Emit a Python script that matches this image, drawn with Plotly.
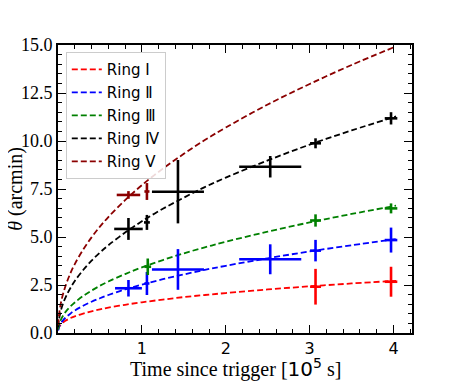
import plotly.graph_objects as go

# ---- data ----
ring_names = ["Ring Ⅰ", "Ring Ⅱ", "Ring Ⅲ", "Ring Ⅳ", "Ring Ⅴ"]
ring_colors = ["#ff0000", "#0000ff", "#008000", "#000000", "#8b0000"]

# fitted model curves
t_curve = [0.002, 0.01, 0.03, 0.06, 0.1, 0.15, 0.2, 0.3, 0.4, 0.5, 0.6, 0.8,
           1.0, 1.25, 1.5, 1.75, 2.0, 2.5, 3.0, 3.5, 4.03]
curve_1 = [0.15, 0.28, 0.42, 0.55, 0.67, 0.78, 0.87, 1.01, 1.13, 1.23, 1.32, 1.47,
           1.60, 1.74, 1.87, 1.98, 2.08, 2.27, 2.43, 2.58, 2.72]
curve_2 = [0.13, 0.28, 0.48, 0.66, 0.84, 1.02, 1.17, 1.42, 1.63, 1.81, 1.98, 2.27,
           2.52, 2.80, 3.05, 3.29, 3.50, 3.89, 4.25, 4.57, 4.89]
curve_3 = [0.18, 0.38, 0.65, 0.90, 1.15, 1.39, 1.59, 1.93, 2.21, 2.46, 2.68, 3.07,
           3.42, 3.80, 4.15, 4.46, 4.75, 5.28, 5.76, 6.20, 6.63]
curve_4 = [0.30, 0.65, 1.10, 1.53, 1.95, 2.36, 2.71, 3.28, 3.77, 4.19, 4.57, 5.23,
           5.82, 6.47, 7.05, 7.60, 8.09, 8.99, 9.81, 10.55, 11.28]
curve_5 = [0.40, 0.86, 1.46, 2.03, 2.58, 3.13, 3.59, 4.34, 4.98, 5.54, 6.04, 6.92,
           7.70, 8.56, 9.33, 10.05, 10.70, 11.90, 12.97, 13.96, 14.93]
curves = [curve_1, curve_2, curve_3, curve_4, curve_5]

# measured points
t_1 = [3.07, 3.97]
terr_1 = [0.065, 0.075]
y_1 = [2.41, 2.67]
yerr_1 = [0.93, 0.78]

t_2 = [0.84, 1.06, 1.43, 2.53, 3.07, 3.97]
terr_2 = [0.16, 0.03, 0.31, 0.37, 0.065, 0.075]
y_2 = [2.33, 2.58, 3.31, 3.84, 4.29, 4.84]
yerr_2 = [0.43, 0.60, 1.06, 0.78, 0.56, 0.65]

t_3 = [1.07, 3.07, 3.97]
terr_3 = [0.04, 0.065, 0.075]
y_3 = [3.45, 5.86, 6.49]
yerr_3 = [0.43, 0.32, 0.26]

t_4 = [0.84, 1.06, 1.43, 2.53, 3.07, 3.97]
terr_4 = [0.17, 0.035, 0.31, 0.37, 0.065, 0.075]
y_4 = [5.42, 5.76, 7.36, 8.66, 9.88, 11.18]
yerr_4 = [0.57, 0.39, 1.65, 0.56, 0.26, 0.32]

t_5 = [0.84, 1.06]
terr_5 = [0.14, 0.03]
y_5 = [7.19, 7.37]
yerr_5 = [0.20, 0.44]

points = [(t_1, terr_1, y_1, yerr_1), (t_2, terr_2, y_2, yerr_2),
          (t_3, terr_3, y_3, yerr_3), (t_4, terr_4, y_4, yerr_4),
          (t_5, terr_5, y_5, yerr_5)]

x_ticks = [1, 2, 3, 4]
y_ticks = [0, 2.5, 5, 7.5, 10, 12.5, 15]

x_title = "Time since trigger [<span style=\"font-family:DejaVu Sans\">10<sup>5</sup></span> s]"
y_title = "<i>θ</i> (arcmin)"

# ---- figure ----
fig = go.Figure()
for i, (name, col) in enumerate(zip(ring_names, ring_colors)):
    fig.add_trace(go.Scatter(
        x=t_curve, y=curves[i], mode="lines", name=name,
        line=dict(color=col, width=1.8, dash="6px,3px", shape="spline"),
        legendgroup=f"g{i}", showlegend=True))
for i, col in enumerate(ring_colors):
    tx, tex, yy, yye = points[i]
    fig.add_trace(go.Scatter(
        x=tx, y=yy, mode="markers", showlegend=False,
        marker=dict(color=col, size=2),
        error_x=dict(type="data", array=tex, visible=True, color=col, thickness=2.6, width=0),
        error_y=dict(type="data", array=yye, visible=True, color=col, thickness=2.6, width=0)))

serif = "Liberation Serif, Times New Roman, serif"
sans = "DejaVu Sans, sans-serif"

# the page body has an 8px margin, so the figure is sized to fit the window
fig.update_layout(
    width=449, height=373,
    margin=dict(l=50, r=45, t=37, b=48),
    paper_bgcolor="white", plot_bgcolor="white",
    showlegend=True,
    legend=dict(
        x=0.022, y=0.975, xanchor="left", yanchor="top",
        bgcolor="rgba(255,255,255,0.85)", bordercolor="#cccccc", borderwidth=1,
        font=dict(family=sans, size=15, color="black"),
        tracegroupgap=0.5, itemwidth=30),
    xaxis=dict(
        range=[0, 4.22], tickvals=x_ticks, ticktext=[str(v) for v in x_ticks],
        ticks="inside", ticklen=8, tickwidth=1.3, tickcolor="black",
        showline=True, linecolor="black", linewidth=1.6, mirror="allticks",
        showgrid=False, zeroline=False, automargin=False,
        tickfont=dict(family=sans, size=16, color="black"),
        minor=dict(ticks="inside", ticklen=4, tickwidth=1, tickcolor="black",
                   dtick=0.2, tick0=0, showgrid=False)),
    yaxis=dict(
        range=[0, 15], tickvals=y_ticks, tickformat=".1f",
        ticks="inside", ticklen=8, tickwidth=1.3, tickcolor="black",
        showline=True, linecolor="black", linewidth=1.6, mirror="allticks",
        showgrid=False, zeroline=False, automargin=False,
        tickfont=dict(family=serif, size=18, color="black"),
        minor=dict(ticks="inside", ticklen=4, tickwidth=1, tickcolor="black",
                   dtick=0.5, tick0=0, showgrid=False)),
    annotations=[
        dict(text=x_title, xref="paper", yref="paper", x=0.5, y=-0.122,
             xanchor="center", yanchor="middle", showarrow=False,
             font=dict(family=serif, size=20, color="black")),
        dict(text=y_title, xref="paper", yref="paper", x=-0.122, y=0.5,
             xanchor="center", yanchor="middle", showarrow=False, textangle=-90,
             font=dict(family=serif, size=20, color="black")),
    ],
)

fig.write_html("out.html")
